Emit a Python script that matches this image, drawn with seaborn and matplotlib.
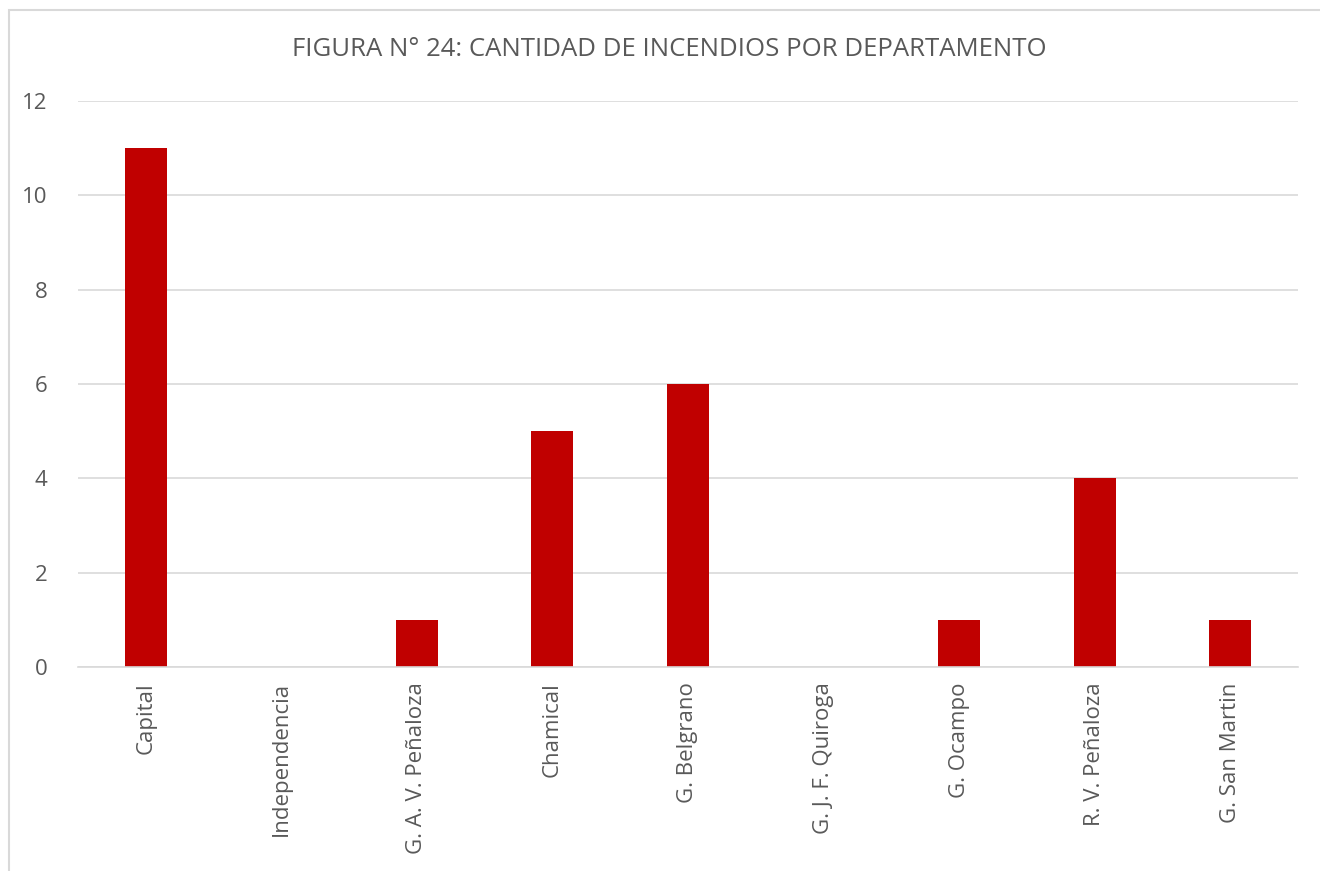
import matplotlib
matplotlib.use("Agg")
import matplotlib.pyplot as plt
import seaborn as sns
import pandas as pd
from matplotlib.patches import Rectangle

departamentos = ["Capital", "Independencia", "G. A. V. Peñaloza", "Chamical", "G. Belgrano",
                 "G. J. F. Quiroga", "G. Ocampo", "R. V. Peñaloza", "G. San Martin"]
incendios = [11, 0, 1, 5, 6, 0, 1, 4, 1]
yticks = [0, 2, 4, 6, 8, 10, 12]
title = "FIGURA N° 24: CANTIDAD DE INCENDIOS POR DEPARTAMENTO"

sns.set_theme(style="white")
plt.rcParams['font.family'] = ['Open Sans', 'DejaVu Sans']

df = pd.DataFrame({"dep": departamentos, "n": incendios})

fig = plt.figure(figsize=(13.2, 8.71), dpi=100)
ax = fig.add_axes([78/1320, 1-667/871, (1298-78)/1320, (667-101)/871])

sns.barplot(data=df, x="dep", y="n", ax=ax, color="#C00000", width=0.31,
            saturation=1, edgecolor="none")

ax.set_ylim(0, 12)
ax.set_yticks(yticks)
ax.set_xlim(-0.5, len(departamentos)-0.5)
ax.yaxis.grid(True, color="#D9D9D9", linewidth=1.2)
ax.set_axisbelow(True)
for s in ["top", "right", "left"]:
    ax.spines[s].set_visible(False)
ax.spines["bottom"].set_color("#D9D9D9")
ax.spines["bottom"].set_linewidth(1.2)
ax.set_xlabel("")
ax.set_ylabel("")
ax.tick_params(axis="both", length=0, colors="#595959", labelsize=16)
ax.tick_params(axis="y", pad=22)
ax.tick_params(axis="x", pad=11)
for lbl in ax.get_xticklabels():
    lbl.set_rotation(90)
    lbl.set_va("top")
    lbl.set_ha("center")

fig.text(669/1320, 1-50/871, title, ha="center", va="center", fontsize=18.5, color="#595959")

fig.patches.append(Rectangle((9/1320, -0.1), 1.2, 1-10/871+0.1, transform=fig.transFigure,
                             fill=False, edgecolor="#D9D9D9", linewidth=1.5))

fig.savefig("out.png", dpi=100)
